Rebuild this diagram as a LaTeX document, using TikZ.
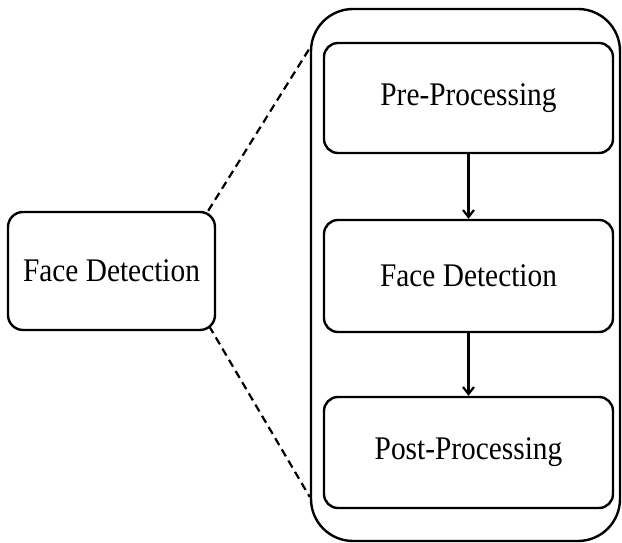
\documentclass[tikz,border=0pt]{standalone}
\usepackage{fontspec}
\setmainfont{Liberation Serif}[FakeStretch=0.89]
\usetikzlibrary{positioning,arrows.meta}
\begin{document}
\begin{tikzpicture}[x=1pt,y=1pt,
    stage/.style={draw, line width=2.4pt, rounded corners=14pt, minimum width=289pt, minimum height=110pt, font=\fontsize{33}{40}\selectfont},
    flow/.style={-{Straight Barb[length=7pt,width=11pt]}, line width=2.2pt}]
                \useasboundingbox (0,0) rectangle (622,543);
                \node[draw, line width=2.4pt, rounded corners=42pt, minimum width=309pt, minimum height=532pt] (stages) at (465.5,268) {};
                \node[stage] (pre) at (468.5,445) {Pre-Processing};
                \node[stage, minimum height=112pt] (detect) at (468.5,267) {Face Detection};
                \node[stage, minimum height=111pt] (post) at (468.5,90.5) {Post-Processing};
                \node[stage, minimum width=207pt, minimum height=118pt, rounded corners=15pt] (fd) at (111.5,272) {Face Detection};
                \draw[flow] (pre) -- (detect);
                \draw[flow] (detect) -- (post);
                \coordinate (zoomtop) at ([yshift=227pt]stages.west);
                \coordinate (zoombot) at ([yshift=-222pt]stages.west);
                \draw[dash pattern=on 8pt off 5pt, line width=2.2pt] ([xshift=-8pt]fd.north east) -- (zoomtop);
                \draw[dash pattern=on 8pt off 5pt, line width=2.2pt] ([shift={(-7pt,5pt)}]fd.south east) -- (zoombot);
            \end{tikzpicture}
\end{document}
